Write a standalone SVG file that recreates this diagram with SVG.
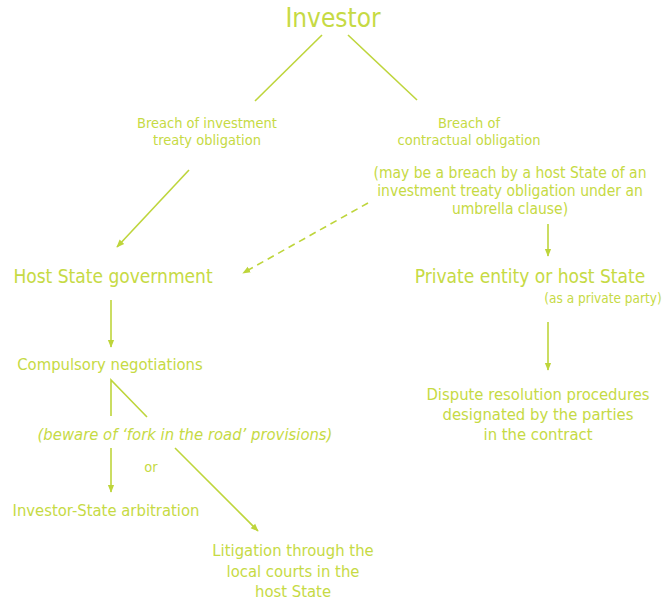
<svg xmlns="http://www.w3.org/2000/svg" width="672" height="602" viewBox="0 0 672 602">
  <defs>
    <style>
      text { font-family: "Liberation Sans Narrow", "DejaVu Sans Condensed", "Roboto", sans-serif; fill: #c6da44; text-anchor: middle; }
      .t1 { font-size: 26px; }
      .t2 { font-size: 19px; }
      .t3 { font-size: 16.5px; }
      .t4 { font-size: 14.5px; }
      .t6 { font-size: 15.5px; }
      .t5 { font-size: 13.5px; }
      .it { font-style: italic; }
      .ln { stroke: #bed53b; stroke-width: 1.6; fill: none; }
      .ar { marker-end: url(#head); }
      .dash { stroke-dasharray: 7 5; }
    </style>
    <marker id="head" viewBox="0 0 10 10" refX="9" refY="5" markerWidth="8" markerHeight="8" markerUnits="userSpaceOnUse" orient="auto">
      <path d="M0,1 L10,5 L0,9 Z" fill="#bed53b"/>
    </marker>
  </defs>
  <rect width="672" height="602" fill="#ffffff"/>

  <g id="connectors">
    <line class="ln" x1="322" y1="35" x2="255" y2="101"/>
    <line class="ln" x1="348" y1="35" x2="417" y2="100"/>
    <line class="ln ar" x1="189" y1="170" x2="117" y2="247"/>
    <line class="ln ar dash" x1="368" y1="203" x2="243" y2="273"/>
    <line class="ln ar" x1="548" y1="224" x2="548" y2="256"/>
    <line class="ln ar" x1="111" y1="300" x2="111" y2="347"/>
    <polyline class="ln" points="111,416 111,380 147,417"/>
    <line class="ln ar" x1="111" y1="448" x2="111" y2="492"/>
    <line class="ln ar" x1="175" y1="448" x2="258" y2="531"/>
    <line class="ln ar" x1="548" y1="322" x2="548" y2="370"/>
  </g>

  <g id="investor"><text class="t1" x="333" y="27">Investor</text></g>
  <g id="breach-treaty">
    <text class="t4" x="207" y="128">Breach of investment</text>
    <text class="t4" x="207" y="145">treaty obligation</text>
  </g>
  <g id="breach-contract">
    <text class="t4" x="469" y="128">Breach of</text>
    <text class="t4" x="469" y="145">contractual obligation</text>
    <text class="t6" x="510" y="178">(may be a breach by a host State of an</text>
    <text class="t6" x="510" y="196">investment treaty obligation under an</text>
    <text class="t6" x="510" y="214">umbrella clause)</text>
  </g>
  <g id="host-state">
    <text class="t2" x="113" y="283">Host State government</text>
  </g>
  <g id="private-entity">
    <text class="t2" x="530" y="283">Private entity or host State</text>
    <text class="t5" x="603" y="303">(as a private party)</text>
  </g>
  <g id="negotiations">
    <text class="t3" x="110" y="370">Compulsory negotiations</text>
  </g>
  <g id="fork-note">
    <text class="t3 it" x="185" y="440">(beware of ‘fork in the road’ provisions)</text>
    <text class="t4" x="151" y="472">or</text>
  </g>
  <g id="arbitration">
    <text class="t3" x="106" y="516">Investor-State arbitration</text>
  </g>
  <g id="litigation">
    <text class="t3" x="293" y="556">Litigation through the</text>
    <text class="t3" x="293" y="577">local courts in the</text>
    <text class="t3" x="293" y="597">host State</text>
  </g>
  <g id="dispute-resolution">
    <text class="t3" x="538" y="400">Dispute resolution procedures</text>
    <text class="t3" x="538" y="420">designated by the parties</text>
    <text class="t3" x="538" y="440">in the contract</text>
  </g>
</svg>
